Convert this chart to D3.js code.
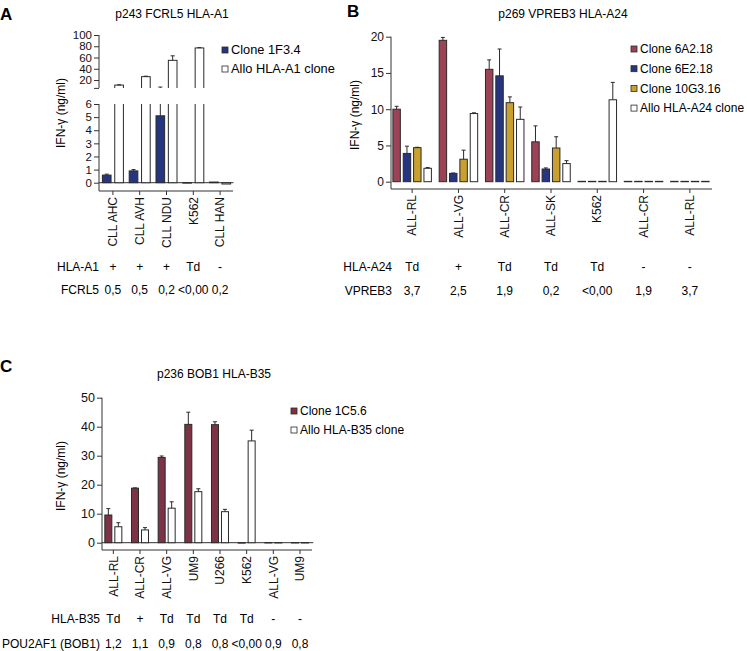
<!DOCTYPE html>
<html>
<head>
<meta charset="utf-8">
<script src="https://cdn.jsdelivr.net/npm/d3@7"></script>
<style>
  body { margin: 0; background: #fff; }
  svg { display: block; font-family: "Liberation Sans", Arial, sans-serif; }
  .axis path, .axis line { stroke: #333; }
  .axis text { fill: #111; }
</style>
</head>
<body>
<svg id="chart" width="747" height="651"></svg>
<script>
/**
 * Data
 */
// Panel A - p243 FCRL5 HLA-A1
var catsA = ["CLL AHC", "CLL AVH", "CLL NDU", "K562", "CLL HAN"];
var seriesA = ["Clone 1F3.4", "Allo HLA-A1 clone"];
var cloneA = [0.58, 0.9, 5.1, 0, 0.05];
var cloneAsd = [0.07, 0.1, 2.4, 0, 0];
var alloA = [11, 26, 55, 77, -0.1];
var alloAsd = [0.5, 0.8, 8, 0.6, 0];
var hlaA1 = ["+", "+", "+", "Td", "-"];
var fcrl5 = ["0,5", "0,5", "0,2", "<0,00", "0,2"];

// Panel B - p269 VPREB3 HLA-A24
var catsB = ["ALL-RL", "ALL-VG", "ALL-CR", "ALL-SK", "K562", "ALL-CR", "ALL-RL"];
var seriesB = ["Clone 6A2.18", "Clone 6E2.18", "Clone 10G3.16", "Allo HLA-A24 clone"];
var clone6A2 = [10.0, 19.5, 15.5, 5.5, 0.05, 0.05, 0.05];
var clone6A2sd = [0.4, 0.4, 1.3, 2.2, 0, 0, 0];
var clone6E2 = [3.9, 1.15, 14.6, 1.75, 0.05, 0.05, 0.05];
var clone6E2sd = [1.0, 0.05, 3.7, 0.15, 0, 0, 0];
var clone10G3 = [4.7, 3.1, 10.9, 4.65, 0.05, 0.05, 0.05];
var clone10G3sd = [0.05, 1.25, 0.8, 1.55, 0, 0, 0];
var alloB = [1.85, 9.4, 8.6, 2.5, 11.3, 0.05, 0.05];
var alloBsd = [0.1, 0.1, 1.7, 0.4, 2.4, 0, 0];
var hlaA24 = ["Td", "+", "Td", "Td", "Td", "-", "-"];
var vpreb3 = ["3,7", "2,5", "1,9", "0,2", "<0,00", "1,9", "3,7"];

// Panel C - p236 BOB1 HLA-B35
var catsC = ["ALL-RL", "ALL-CR", "ALL-VG", "UM9", "U266", "K562", "ALL-VG", "UM9"];
var seriesC = ["Clone 1C5.6", "Allo HLA-B35 clone"];
var clone1C5 = [9.55, 18.8, 29.4, 40.8, 40.7, 0, 0.05, 0.05];
var clone1C5sd = [2.2, 0.1, 0.5, 4.2, 1.0, 0, 0, 0];
var alloC = [5.5, 4.4, 11.9, 17.6, 10.7, 35.1, 0.05, 0.05];
var alloCsd = [1.4, 0.8, 2.2, 1.0, 0.8, 3.7, 0, 0];
var hlaB35 = ["Td", "+", "Td", "Td", "Td", "Td", "-", "-"];
var bob1 = ["1,2", "1,1", "0,9", "0,8", "0,8", "<0,00", "0,9", "0,8"];

var svg = d3.select("#chart");

function panel(o) {
  var g = svg.append("g");
  var x = d3.scaleBand().domain(d3.range(o.cats.length)).range([o.x0, o.x1]);
  var inner = d3.scaleBand().domain(d3.range(o.series.length))
    .range([-o.groupW / 2, o.groupW / 2]).paddingInner(o.barPad);

  // title + panel letter
  g.append("text").attr("x", o.letterX).attr("y", o.letterY)
    .style("font-size", "17px").style("font-weight", "bold").text(o.letter);
  g.append("text").attr("x", o.titleX).attr("y", o.titleY)
    .style("font-size", "12px").style("text-anchor", "middle").text(o.title);

  o.segments.forEach(function (seg, si) {
    var y = d3.scaleLinear().domain(seg.domain).range(seg.range);
    var d0 = seg.domain[0], d1 = seg.domain[1];
    var clipId = "clip-" + o.letter + si;
    var clipBottom = seg.bottom !== undefined ? seg.bottom : seg.range[0];
    g.append("clipPath").attr("id", clipId).append("rect")
      .attr("x", o.axisX).attr("y", seg.range[1] - 12)
      .attr("width", o.x1 - o.axisX + 10).attr("height", clipBottom - seg.range[1] + 12);
    var clipTop = seg.clipTop ? seg.range[1] : seg.range[1] - 12;
    d3.select("#" + clipId + " rect").attr("y", clipTop).attr("height", clipBottom - clipTop);

    var bars = g.append("g").attr("clip-path", "url(#" + clipId + ")");
    if (o.zeroLine && d0 === 0) {
      bars.append("line").attr("x1", o.axisX).attr("x2", o.x1)
        .attr("y1", y(0)).attr("y2", y(0)).attr("stroke", "#333").attr("stroke-width", 1);
    }
    o.series.forEach(function (s, k) {
      var vals = o.values[k], sds = o.sds[k];
      vals.forEach(function (v, i) {
        var cx = x(i) + x.bandwidth() / 2 + inner(k);
        if (d0 > 0 && v <= d0 && v + sds[i] <= d0) return;
        if (!(d0 > 0 && v <= d0)) {
          var yTop, yBot;
          if (v >= 0) {
            yTop = y(Math.min(v, d1 + (d1 - d0) * 0.1));
            yBot = d0 > 0 ? seg.range[0] + 4 : y(0);
          } else {
            yTop = y(0);
            yBot = y(v);
          }
          bars.append("rect")
            .attr("x", cx).attr("width", inner.bandwidth())
            .attr("y", yTop).attr("height", Math.max(0.4, yBot - yTop))
            .attr("fill", o.colors[k]).attr("stroke", "#2a2a2a").attr("stroke-width", 1);
        }
        if (sds[i] > 0) {
          var bx = cx + inner.bandwidth() / 2;
          var yA = y(Math.max(v, d0)), yB = y(v + sds[i]);
          bars.append("line").attr("x1", bx).attr("x2", bx).attr("y1", yA).attr("y2", yB)
            .attr("stroke", "#2a2a2a").attr("stroke-width", 1);
          bars.append("line").attr("x1", bx - 2).attr("x2", bx + 2).attr("y1", yB).attr("y2", yB)
            .attr("stroke", "#2a2a2a").attr("stroke-width", 1);
        }
      });
    });

    var ax = g.append("g").attr("class", "axis")
      .attr("transform", "translate(" + o.axisX + ",0)")
      .call(d3.axisLeft(y).tickValues(seg.ticks).tickSize(5).tickSizeOuter(0).tickPadding(2)
        .tickFormat(function (d) { return seg.unlabeled && seg.unlabeled.indexOf(d) >= 0 ? "" : d; }));
    ax.select(".domain").remove();
    ax.selectAll("text").style("font-size", o.tickFont + "px");
    g.append("line").attr("x1", o.axisX).attr("x2", o.axisX)
      .attr("y1", seg.range[1]).attr("y2", d0 === 0 ? o.axisY : seg.range[0])
      .attr("stroke", "#333");
  });

  // x axis
  var xa = g.append("g").attr("class", "axis")
    .attr("transform", "translate(0," + o.axisY + ")")
    .call(d3.axisBottom(x).tickSize(4).tickSizeOuter(0)
      .tickFormat(function (i) { return o.cats[i]; }));
  xa.select(".domain").remove();
  xa.selectAll("text")
    .attr("transform", "rotate(-90)")
    .attr("x", -(o.labelGap)).attr("y", 0).attr("dy", "0.35em")
    .style("text-anchor", "end").style("font-size", "12px");
  g.append("line").attr("x1", o.axisX).attr("x2", o.xEnd)
    .attr("y1", o.axisY).attr("y2", o.axisY).attr("stroke", "#333");

  // y label
  g.append("text")
    .attr("transform", "translate(" + o.ylabX + "," + o.ylabY + ") rotate(-90)")
    .style("text-anchor", "middle").style("font-size", "12px")
    .text("IFN-\u03b3 (ng/ml)");

  // legend
  o.series.forEach(function (s, k) {
    var ly = o.legY + k * o.legStep;
    g.append("rect").attr("x", o.legX).attr("y", ly - 3).attr("width", 6).attr("height", 6)
      .attr("fill", o.colors[k]).attr("stroke", "#2a2a2a").attr("stroke-width", 0.8);
    g.append("text").attr("x", o.legX + 9).attr("y", ly).attr("dy", "0.35em")
      .style("font-size", o.legFont + "px").text(s);
  });

  // rows under the chart
  o.rows.forEach(function (r) {
    g.append("text").attr("x", o.rowLabX).attr("y", r.y)
      .style("text-anchor", "end").style("font-size", "12px").text(r.label);
    r.values.forEach(function (t, i) {
      g.append("text").attr("x", x(i) + x.bandwidth() / 2).attr("y", r.y)
        .style("text-anchor", "middle").style("font-size", "12px").text(t);
    });
  });
}

panel({
  letter: "A", letterX: 0, letterY: 20, title: "p243 FCRL5 HLA-A1", titleX: 172, titleY: 18,
  cats: catsA, series: seriesA, colors: ["#253580", "#ffffff"],
  values: [cloneA, alloA], sds: [cloneAsd, alloAsd],
  x0: 99.5, x1: 233.5, xEnd: 233, axisX: 99, axisY: 191, groupW: 21, barPad: 0.3,
  segments: [
    { domain: [0, 6], range: [182.7, 104], ticks: [0, 1, 2, 3, 4, 5, 6], bottom: 191, clipTop: true },
    { domain: [6, 100], range: [87.9, 35], ticks: [6, 20, 40, 60, 80, 100], unlabeled: [6] }
  ],
  tickFont: 11.5, labelGap: 6, zeroLine: true,
  ylabX: 65, ylabY: 113,
  legX: 222, legY: 50, legStep: 19, legFont: 12.8,
  rowLabX: 99,
  rows: [{ label: "HLA-A1", y: 271, values: hlaA1 }, { label: "FCRL5", y: 294, values: fcrl5 }]
});

panel({
  letter: "B", letterX: 347, letterY: 17, title: "p269 VPREB3 HLA-A24", titleX: 563, titleY: 18,
  cats: catsB, series: seriesB, colors: ["#9c4257", "#253580", "#c9a02f", "#ffffff"],
  values: [clone6A2, clone6E2, clone10G3, alloB], sds: [clone6A2sd, clone6E2sd, clone10G3sd, alloBsd],
  x0: 389, x1: 713, xEnd: 712, axisX: 391, axisY: 189, groupW: 38.5, barPad: 0.28,
  segments: [
    { domain: [0, 20], range: [181.7, 36.7], ticks: [0, 5, 10, 15, 20], bottom: 189 }
  ],
  tickFont: 12, labelGap: 6, zeroLine: false,
  ylabX: 359, ylabY: 115,
  legX: 631, legY: 49, legStep: 19.7, legFont: 12,
  rowLabX: 392,
  rows: [{ label: "HLA-A24", y: 271, values: hlaA24 }, { label: "VPREB3", y: 295, values: vpreb3 }]
});

panel({
  letter: "C", letterX: 0, letterY: 372, title: "p236 BOB1 HLA-B35", titleX: 214, titleY: 378,
  cats: catsC, series: seriesC, colors: ["#7c3345", "#ffffff"],
  values: [clone1C5, alloC], sds: [clone1C5sd, alloCsd],
  x0: 100, x1: 313.3, xEnd: 312, axisX: 102, axisY: 550, groupW: 17, barPad: 0.3,
  segments: [
    { domain: [0, 50], range: [542.7, 397.7], ticks: [0, 10, 20, 30, 40, 50], bottom: 550 }
  ],
  tickFont: 12.5, labelGap: 6, zeroLine: true,
  ylabX: 65, ylabY: 476,
  legX: 291, legY: 411, legStep: 19, legFont: 12,
  rowLabX: 100,
  rows: [{ label: "HLA-B35", y: 623, values: hlaB35 }, { label: "POU2AF1 (BOB1)", y: 648, values: bob1 }]
});
</script>
</body>
</html>
